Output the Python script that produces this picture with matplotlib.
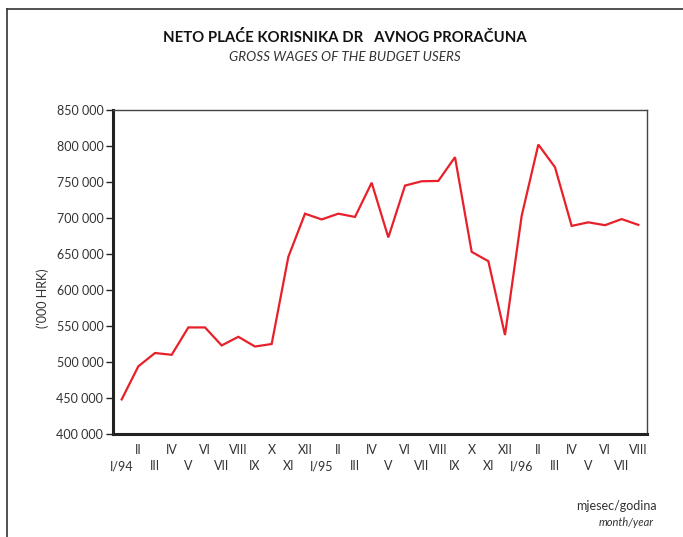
import matplotlib.pyplot as plt
from matplotlib.lines import Line2D
from matplotlib.ticker import FuncFormatter

# mjeseci I/94 - VIII/96
months = ['I/94', 'II', 'III', 'IV', 'V', 'VI', 'VII', 'VIII', 'IX', 'X', 'XI', 'XII',
          'I/95', 'II', 'III', 'IV', 'V', 'VI', 'VII', 'VIII', 'IX', 'X', 'XI', 'XII',
          'I/96', 'II', 'III', 'IV', 'V', 'VI', 'VII', 'VIII']
wages = [448000, 494000, 512500, 510000, 548000, 548000, 523000, 535000,
         521500, 525000, 646000, 706000, 698000, 706000, 701500, 749000,
         673000, 745000, 751000, 751500, 784500, 653000, 640000, 537500,
         703000, 802000, 770500, 689000, 694000, 690000, 698500, 690500]
y_ticks = [400000, 450000, 500000, 550000, 600000, 650000, 700000, 750000, 800000, 850000]

plt.rcParams['font.family'] = ['Lato', 'DejaVu Sans']
txt_color = '#333333'

fig = plt.figure(figsize=(6.83, 5.37), dpi=100)
ax = fig.add_axes([113 / 683, 1 - 434 / 537, (647 - 113) / 683, (434 - 110) / 537])

x = list(range(len(wages)))
ax.plot(x, wages, color='#e8202a', linewidth=1.6, solid_joinstyle='miter')

ax.set_xlim(-0.52, len(wages) - 1 + 0.52)
ax.set_ylim(400000, 850000)
ax.set_yticks(y_ticks)
ax.yaxis.set_major_formatter(FuncFormatter(lambda v, p: f'{int(v):,}'.replace(',', ' ')))
ax.tick_params(axis='y', length=5, width=1, color='#222222', labelsize=9,
               labelcolor=txt_color, pad=2)

# dva reda oznaka na x osi
ax.set_xticks(x[0::2])
ax.set_xticklabels(months[0::2])
ax.set_xticks(x[1::2], minor=True)
ax.set_xticklabels(months[1::2], minor=True)
ax.tick_params(axis='x', which='major', length=0, pad=19, labelsize=9, labelcolor=txt_color)
ax.tick_params(axis='x', which='minor', length=0, pad=7, labelsize=9, labelcolor=txt_color)

for s in ['left', 'bottom']:
    ax.spines[s].set_linewidth(2.2)
    ax.spines[s].set_color('#222222')
for s in ['top', 'right']:
    ax.spines[s].set_linewidth(1.0)
    ax.spines[s].set_color('#444444')

ax.set_ylabel("('000 HRK)", fontsize=9, color=txt_color)
ax.yaxis.set_label_coords(-0.12, 0.42)

fig.text(345 / 683, 1 - 38 / 537, 'NETO PLAĆE KORISNIKA DR   AVNOG PRORAČUNA',
         ha='center', va='center', fontsize=10.7, fontweight='bold', color='#111111')
fig.text(345 / 683, 1 - 57 / 537, 'GROSS WAGES OF THE BUDGET USERS',
         ha='center', va='center', fontsize=9.7, style='italic', color=txt_color)

fig.text(657 / 683, 1 - 506 / 537, 'mjesec/godina', ha='right', va='center',
         fontsize=9, color=txt_color)
fig.text(654 / 683, 1 - 522 / 537, 'month/year', ha='right', va='center',
         fontsize=8, style='italic', color=txt_color)

# okvir stranice
fig.add_artist(Line2D([7 / 683, 1], [1 - 9 / 537, 1 - 9 / 537], transform=fig.transFigure,
                      color='#333333', linewidth=1.2))
fig.add_artist(Line2D([7 / 683, 7 / 683], [0, 1 - 9 / 537], transform=fig.transFigure,
                      color='#333333', linewidth=1.2))

fig.savefig('out.png', dpi=100)
